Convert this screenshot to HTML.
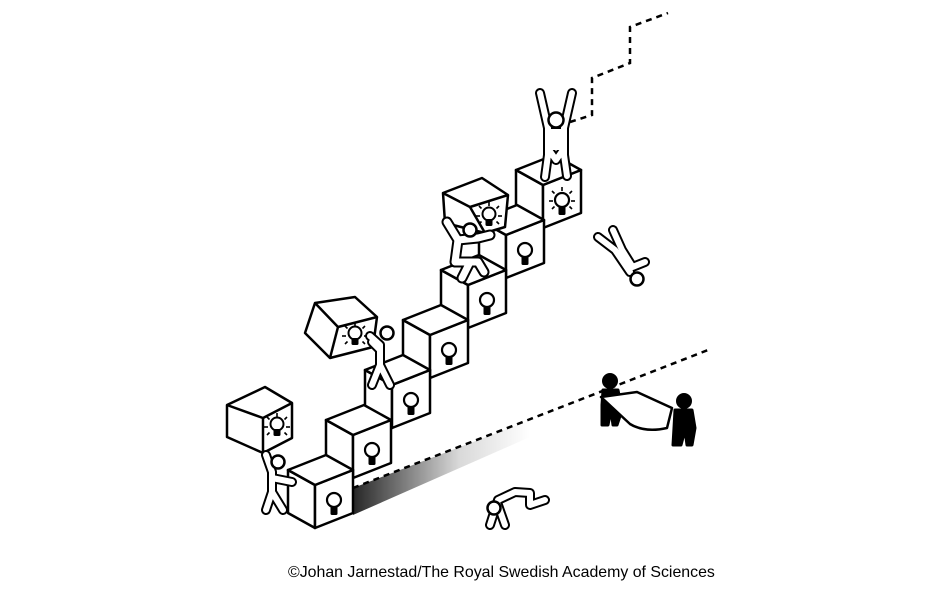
<!DOCTYPE html>
<html><head><meta charset="utf-8"><style>
html,body{margin:0;padding:0;background:#fff;}
svg{display:block;}
</style></head><body>
<svg width="948" height="593" viewBox="0 0 948 593" xmlns="http://www.w3.org/2000/svg">
<defs>
<linearGradient id="sh" x1="0" y1="0" x2="1" y2="0">
<stop offset="0" stop-color="#000" stop-opacity="0.85"/>
<stop offset="0.6" stop-color="#000" stop-opacity="0.15"/>
<stop offset="1" stop-color="#000" stop-opacity="0"/>
</linearGradient>
<g id="cube">
<polygon points="0,0 -27,-15 -27,-58 0,-43" fill="#fff" stroke="#000" stroke-width="2.5" stroke-linejoin="round"/>
<polygon points="0,0 38,-15 38,-58 0,-43" fill="#fff" stroke="#000" stroke-width="2.5" stroke-linejoin="round"/>
<polygon points="0,-43 -27,-58 11,-73 38,-58" fill="#fff" stroke="#000" stroke-width="2.5" stroke-linejoin="round"/>
<circle cx="19" cy="-28" r="7" fill="#fff" stroke="#000" stroke-width="2.2"/>
<rect x="15.5" y="-22" width="7" height="9" rx="1.5" fill="#000"/>
</g>
<g id="rays" stroke="#000" stroke-width="1.6">
<line x1="0" y1="-14" x2="0" y2="-10"/><line x1="-10" y1="-10" x2="-7.5" y2="-7.5"/><line x1="10" y1="-10" x2="7.5" y2="-7.5"/>
<line x1="-13" y1="0" x2="-9" y2="0"/><line x1="13" y1="0" x2="9" y2="0"/>
<line x1="-10" y1="8" x2="-7.5" y2="5.5"/><line x1="10" y1="8" x2="7.5" y2="5.5"/>
</g>
</defs>

<polygon points="353,488 530,420 530,437 353,515" fill="url(#sh)"/>
<polyline points="353,488 708,350" fill="none" stroke="#000" stroke-width="2.5" stroke-dasharray="6,5"/>
<polyline points="570,122 592,115 592,78 630,63 630,27 668,13" fill="none" stroke="#000" stroke-width="2.5" stroke-dasharray="6,5"/>

<use href="#cube" transform="translate(543,228)"/>
<use href="#rays" transform="translate(562,201)"/>
<use href="#cube" transform="translate(506,278)"/>
<use href="#cube" transform="translate(468,328)"/>
<use href="#cube" transform="translate(430,378)"/>
<use href="#cube" transform="translate(392,428)"/>
<use href="#cube" transform="translate(353,478)"/>
<use href="#cube" transform="translate(315,528)"/>

<!-- person on top -->
<g fill="none" stroke-linecap="round" stroke-linejoin="round">
<path d="M540,93 L548,128 L548,155 L545,177 M572,93 L564,128 L564,155 L567,176 M549,132 L563,132 M549,150 L556,160 L563,150" stroke="#000" stroke-width="10"/>
<path d="M540,93 L548,128 L548,155 L545,177 M572,93 L564,128 L564,155 L567,176 M549,132 L563,132 M549,150 L556,160 L563,150" stroke="#fff" stroke-width="6"/>
<path d="M550,130 L562,130 L562,150 L550,150 Z" fill="#fff" stroke="none"/>
</g>
<circle cx="556" cy="120" r="7.5" fill="#fff" stroke="#000" stroke-width="2.5"/>

<!-- falling person -->
<g fill="none" stroke-linecap="round" stroke-linejoin="round">
<path d="M598,237 L615,250 L630,272 M613,230 L622,250 L632,266 M630,268 L645,262" stroke="#000" stroke-width="10"/>
<path d="M598,237 L615,250 L630,272 M613,230 L622,250 L632,266 M630,268 L645,262" stroke="#fff" stroke-width="6"/>
</g>
<circle cx="637" cy="279" r="6.5" fill="#fff" stroke="#000" stroke-width="2.5"/>

<!-- carried top cube -->
<g fill="#fff" stroke="#000" stroke-width="2.5" stroke-linejoin="round">
<polygon points="443,193 482,178 508,195 505,227 485,233 445,223"/>
<polyline points="443,193 470,207 508,195" fill="none"/>
<line x1="470" y1="207" x2="485" y2="233"/>
</g>
<circle cx="489" cy="214" r="6.5" fill="#fff" stroke="#000" stroke-width="2"/>
<rect x="485.5" y="219" width="7" height="7" rx="1.5" fill="#000"/>
<use href="#rays" transform="translate(489,216)"/>
<g fill="none" stroke-linecap="round" stroke-linejoin="round">
<path d="M447,222 L458,240 L455,262 L470,262 L462,278 M458,240 L478,238 L490,235 M462,262 L478,262 L484,272" stroke="#000" stroke-width="11"/>
<path d="M447,222 L458,240 L455,262 L470,262 L462,278 M458,240 L478,238 L490,235 M462,262 L478,262 L484,272" stroke="#fff" stroke-width="7"/>
</g>
<circle cx="470" cy="230" r="6.5" fill="#fff" stroke="#000" stroke-width="2.5"/>

<!-- tilted cube -->
<g fill="#fff" stroke="#000" stroke-width="2.5" stroke-linejoin="round">
<polygon points="315,303 355,297 377,317 373,347 330,358 305,333"/>
<polyline points="315,303 338,327 377,317" fill="none"/>
<line x1="338" y1="327" x2="330" y2="358"/>
</g>
<circle cx="355" cy="333" r="6.5" fill="#fff" stroke="#000" stroke-width="2"/>
<rect x="351.5" y="338" width="7" height="7" rx="1.5" fill="#000"/>
<use href="#rays" transform="translate(355,336)"/>
<g fill="none" stroke-linecap="round" stroke-linejoin="round">
<path d="M370,336 L380,345 L380,365 L372,385 M380,365 L390,385 M380,350 L372,342" stroke="#000" stroke-width="10"/>
<path d="M370,336 L380,345 L380,365 L372,385 M380,365 L390,385 M380,350 L372,342" stroke="#fff" stroke-width="6"/>
</g>
<circle cx="387" cy="333" r="6.5" fill="#fff" stroke="#000" stroke-width="2.5"/>

<!-- left held cube -->
<g fill="#fff" stroke="#000" stroke-width="2.5" stroke-linejoin="round">
<polygon points="227,405 265,387 292,403 292,438 263,453 227,437"/>
<polyline points="227,405 263,418 292,403" fill="none"/>
<line x1="263" y1="418" x2="263" y2="453"/>
</g>
<circle cx="277" cy="424" r="6.5" fill="#fff" stroke="#000" stroke-width="2"/>
<rect x="273.5" y="429" width="7" height="7" rx="1.5" fill="#000"/>
<use href="#rays" transform="translate(277,427)"/>
<g fill="none" stroke-linecap="round" stroke-linejoin="round">
<path d="M266,455 L272,472 L272,492 L266,510 M272,492 L283,510 M272,478 L292,482" stroke="#000" stroke-width="10"/>
<path d="M266,455 L272,472 L272,492 L266,510 M272,492 L283,510 M272,478 L292,482" stroke="#fff" stroke-width="6"/>
</g>
<circle cx="278" cy="462" r="6.5" fill="#fff" stroke="#000" stroke-width="2.5"/>

<!-- crawling person -->
<g fill="none" stroke-linecap="round" stroke-linejoin="round">
<path d="M490,525 L498,500 L515,492 L530,493 L530,505 L545,500 M498,505 L505,525" stroke="#000" stroke-width="10"/>
<path d="M490,525 L498,500 L515,492 L530,493 L530,505 L545,500 M498,505 L505,525" stroke="#fff" stroke-width="6"/>
</g>
<circle cx="494" cy="508" r="6.5" fill="#fff" stroke="#000" stroke-width="2.5"/>

<!-- black figures -->
<g fill="#000" stroke="#000" stroke-linecap="round" stroke-linejoin="round">
<circle cx="610" cy="381" r="7.5"/>
<path d="M603,390 L618,390 L622,410 L617,425 L613,425 L611,410 L608,425 L602,425 L602,405 Z" stroke-width="3"/>
<circle cx="684" cy="401" r="7.5"/>
<path d="M675,410 L692,410 L695,428 L692,445 L687,445 L685,430 L681,445 L673,445 L674,428 Z" stroke-width="3"/>
</g>
<path d="M601,397 L637,392 L672,408 L667,428 Q645,433 630,424 Z" fill="#fff" stroke="#000" stroke-width="2.5" stroke-linejoin="round"/>

<text x="288" y="577" font-family="Liberation Sans, sans-serif" font-size="15.9" fill="#000">©Johan Jarnestad/The Royal Swedish Academy of Sciences</text>
</svg>
</body></html>
